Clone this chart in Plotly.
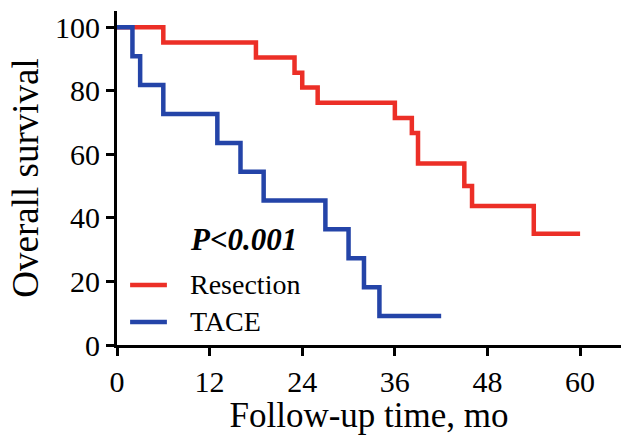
import plotly.graph_objects as go

# Kaplan-Meier estimates (event times in months, survival in %)
resection_time = [0, 6, 18, 23, 24, 26, 36, 38.2, 39, 45, 46, 54, 60]
resection_surv = [100, 95.2, 90.5, 85.7, 81.0, 76.2, 71.4, 66.7, 57.1, 50.0, 43.75, 35.0, 35.0]

tace_time = [0, 2, 3, 6, 13, 16, 19, 27, 30, 32, 34, 42]
tace_surv = [100, 90.9, 81.8, 72.7, 63.6, 54.5, 45.5, 36.4, 27.3, 18.2, 9.1, 9.1]

x_ticks = [0, 12, 24, 36, 48, 60]
y_ticks = [0, 20, 40, 60, 80, 100]

RED = "#EC2F27"
BLUE = "#2444A8"
FONT = "Liberation Serif"
TICK_FONT = dict(family=FONT, size=30, color="black")

fig = go.Figure()
fig.add_trace(go.Scatter(x=resection_time, y=resection_surv, mode="lines",
                         line=dict(color=RED, width=4.5, shape="hv"),
                         name="Resection", showlegend=False))
fig.add_trace(go.Scatter(x=tace_time, y=tace_surv, mode="lines",
                         line=dict(color=BLUE, width=4.5, shape="hv"),
                         name="TACE", showlegend=False))

# legend keys and labels
legend_items = [("Resection", RED, 0.18), ("TACE", BLUE, 0.069)]
for label, color, yp in legend_items:
    fig.add_shape(type="line", xref="paper", yref="paper",
                  x0=0.026, x1=0.099, y0=yp, y1=yp,
                  line=dict(color=color, width=4.5))
    fig.add_annotation(xref="paper", yref="paper", x=0.14, y=yp,
                       text=label, showarrow=False, xanchor="left", yanchor="middle",
                       font=dict(family=FONT, size=28, color="black"))

fig.add_annotation(xref="paper", yref="paper", x=0.14, y=0.315,
                   text="<b><i>P&lt;0.001</i></b>", showarrow=False,
                   xanchor="left", yanchor="middle",
                   font=dict(family=FONT, size=31, color="black"))

fig.update_xaxes(range=[0, 65.3], tickvals=x_ticks, tickfont=TICK_FONT,
                 showline=True, linecolor="black", linewidth=3,
                 ticks="outside", ticklen=8, tickwidth=3, tickcolor="black",
                 showgrid=False, zeroline=False,
                 title=dict(text="Follow-up time, mo",
                            font=dict(family=FONT, size=35, color="black"), standoff=4))
fig.update_yaxes(range=[0, 105.1], tickvals=y_ticks, tickfont=TICK_FONT,
                 showline=True, linecolor="black", linewidth=3,
                 ticks="outside", ticklen=8, tickwidth=3, tickcolor="black",
                 showgrid=False, zeroline=False,
                 title=dict(text="Overall survival",
                            font=dict(family=FONT, size=37, color="black"), standoff=6))

fig.update_layout(width=621, height=435,
                  font=dict(family=FONT, size=30, color="black"),
                  margin=dict(l=117, r=0, t=11, b=90),
                  plot_bgcolor="white", paper_bgcolor="white")

fig.write_html("out.html")
